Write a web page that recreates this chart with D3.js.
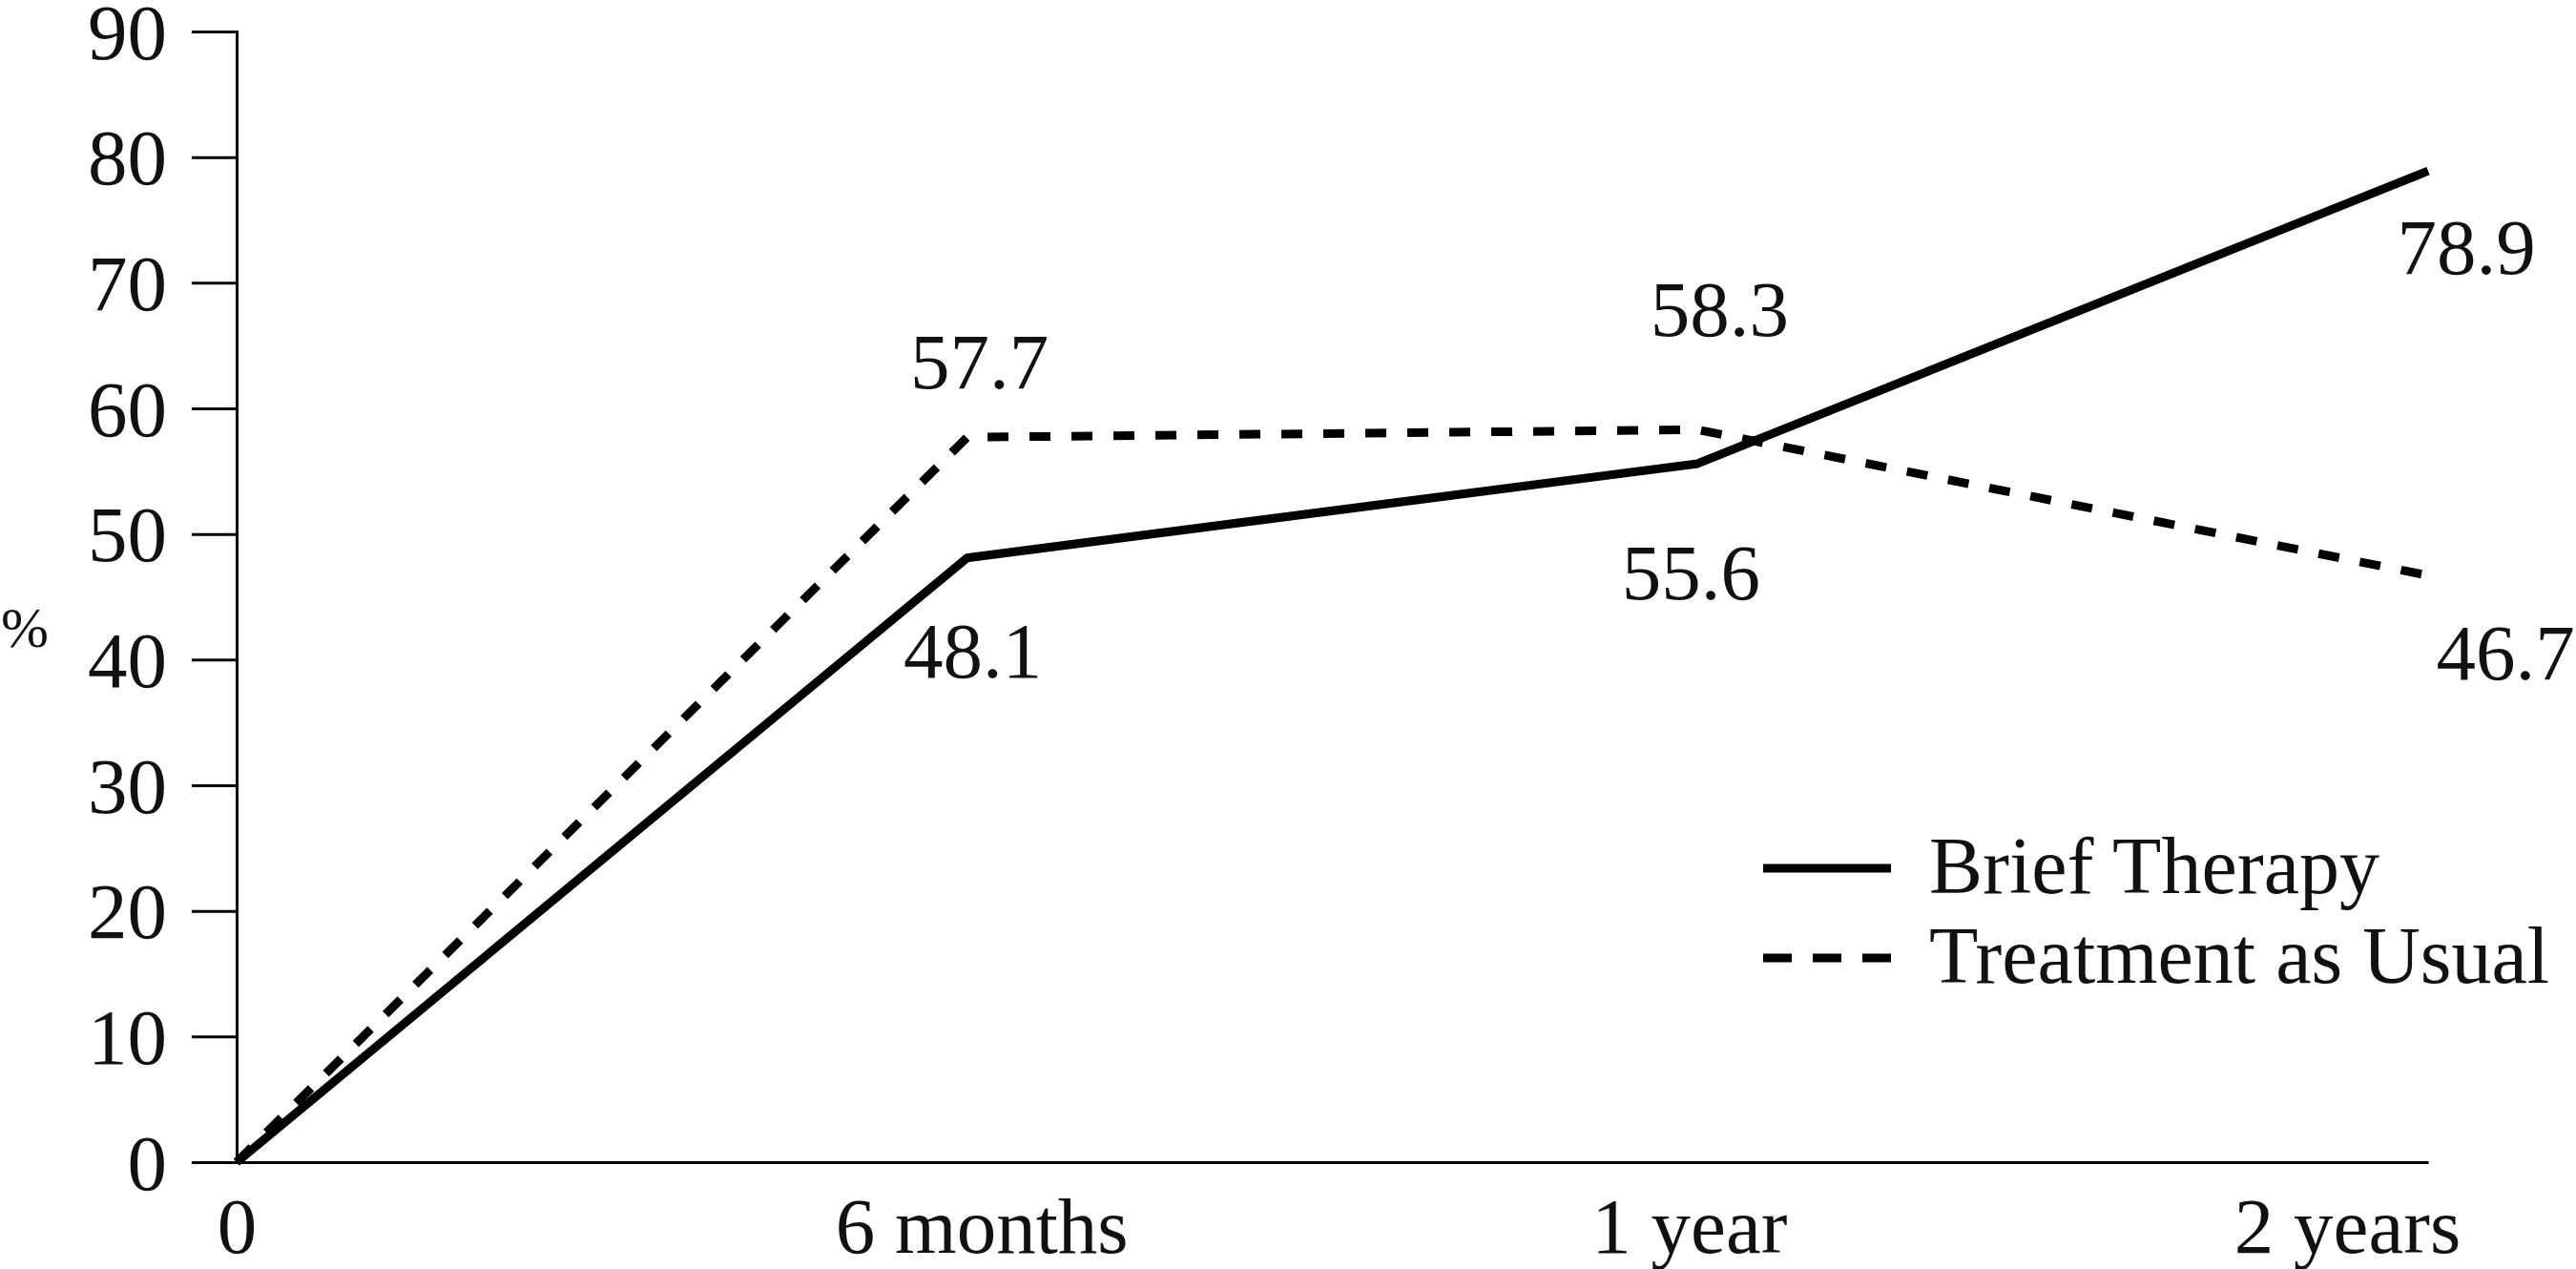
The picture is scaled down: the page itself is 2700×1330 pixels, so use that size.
<!DOCTYPE html>
<html>
<head>
<meta charset="utf-8">
<script src="https://cdn.jsdelivr.net/npm/d3@7"></script>
<style>
  html, body { margin: 0; padding: 0; background: #fff; }
  svg { display: block; }
  text { font-family: "Liberation Serif", "Times New Roman", serif; fill: #111; }
</style>
</head>
<body>
<svg id="chart" width="2700" height="1330"></svg>
<script>
// ---- data ----
const categories = ["0", "6 months", "1 year", "2 years"];
const briefTherapy = [0, 48.1, 55.6, 78.9];
const treatmentAsUsual = [0, 57.7, 58.3, 46.7];
const yTicks = [0, 10, 20, 30, 40, 50, 60, 70, 80, 90];
const seriesNames = ["Brief Therapy", "Treatment as Usual"];

// ---- layout ----
const svg = d3.select("#chart");
const x = d3.scalePoint().domain(categories).range([248, 2545]);
const y = d3.scaleLinear().domain([0, 90]).range([1218, 33]);
const FS = 83;

// y axis
const yAxis = d3.axisLeft(y).tickValues(yTicks).tickSize(47).tickPadding(26).tickFormat(d3.format("d"));
const gy = svg.append("g").attr("transform", "translate(248,0)").call(yAxis);
gy.select(".domain").attr("stroke", "#000").attr("stroke-width", 3);
gy.selectAll(".tick line").attr("stroke", "#000").attr("stroke-width", 3);
gy.selectAll(".tick text").attr("font-size", FS).attr("font-family", "Liberation Serif").attr("fill", "#111").attr("dy", "0.34em");

// x axis
const xAxis = d3.axisBottom(x).tickSize(0).tickPadding(36);
const gx = svg.append("g").attr("transform", "translate(0,1218)").call(xAxis);
gx.select(".domain").attr("stroke", "#000").attr("stroke-width", 3);
gx.selectAll(".tick text").attr("font-size", FS).attr("font-family", "Liberation Serif").attr("fill", "#111")
  .attr("dy", "0.71em")
  .attr("dx", (d, i) => i === categories.length - 1 ? -85 : (i === 1 ? 15 : (i === 2 ? -9 : 0)));

// % label
svg.append("text").attr("x", 1).attr("y", 678).attr("font-size", 60).text("%");

// lines
const line = d3.line().x((d, i) => x(categories[i])).y(d => y(d)).curve(d3.curveLinear);
svg.append("path").datum(briefTherapy).attr("d", line)
  .attr("fill", "none").attr("stroke", "#000").attr("stroke-width", 9).attr("stroke-linejoin", "round");
svg.append("path").datum(treatmentAsUsual).attr("d", line)
  .attr("fill", "none").attr("stroke", "#000").attr("stroke-width", 9)
  .attr("stroke-dasharray", "22,22").attr("stroke-linejoin", "round");

// value labels (offsets relative to each point: [dx, dy])
const briefOffsets = [null, [6, 125], [-7, 142], [40, 108]];
const tauOffsets = [null, [13, -51], [23, -98], [81, 109]];
function addLabels(values, offsets) {
  svg.append("g").selectAll("text")
    .data(values.map((v, i) => ({ v, i })).filter(d => offsets[d.i]))
    .join("text")
    .attr("x", d => x(categories[d.i]) + offsets[d.i][0])
    .attr("y", d => y(d.v) + offsets[d.i][1])
    .attr("text-anchor", "middle")
    .attr("font-size", FS)
    .text(d => d3.format(".1f")(d.v));
}
addLabels(briefTherapy, briefOffsets);
addLabels(treatmentAsUsual, tauOffsets);

// legend
const legend = svg.append("g");
const legendY = [910, 1004];
seriesNames.forEach((name, i) => {
  legend.append("line")
    .attr("x1", 1848).attr("x2", 1982).attr("y1", legendY[i]).attr("y2", legendY[i])
    .attr("stroke", "#000").attr("stroke-width", 9)
    .attr("stroke-dasharray", i === 1 ? "30,22" : null);
  legend.append("text")
    .attr("x", 2022).attr("y", legendY[i] + 26)
    .attr("font-size", 84)
    .text(name);
});
</script>
</body>
</html>
